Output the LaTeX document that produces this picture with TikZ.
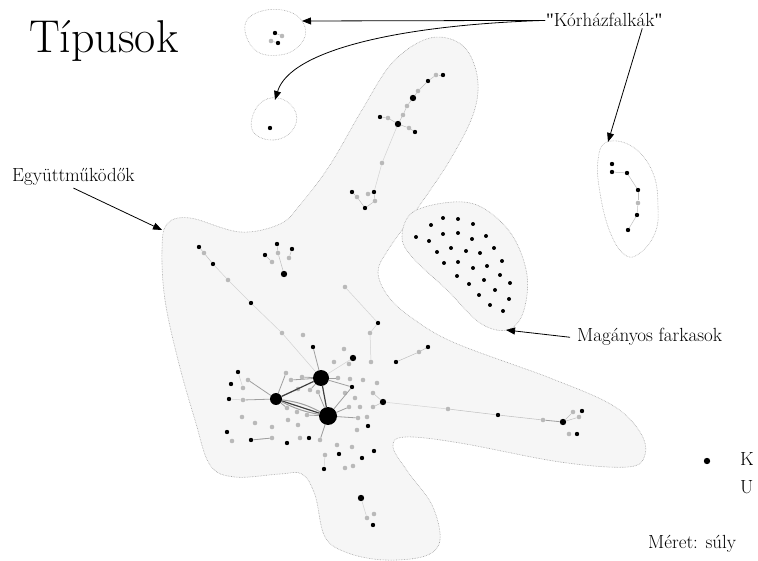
\documentclass[tikz,border=0pt]{standalone}
\usepackage{fontspec}
\newfontfamily\qfont{Liberation Serif}
\usetikzlibrary{arrows.meta}
\begin{document}
\begin{tikzpicture}[x=1pt,y=-1pt,
  blob/.style={draw=gray!75,densely dotted,line width=0.6pt,fill=gray!7},
  clique/.style={draw=gray!70,densely dotted,line width=0.6pt,fill=white},
  kdot/.style={circle,fill=black,inner sep=0pt,minimum size=4.4pt},
  kdotL/.style={circle,fill=black,inner sep=0pt,minimum size=6.4pt},
  udot/.style={circle,fill=gray!55,inner sep=0pt,minimum size=4.6pt},
  hub/.style={circle,fill=black,inner sep=0pt},
  edge/.style={gray!50,line width=0.5pt},
  edgeD/.style={gray!75,line width=0.8pt},
  hubedge/.style={black!75,line width=1.2pt},
  arr/.style={line width=0.8pt,-{Triangle[length=9pt,width=7pt]}},
  lbl/.style={inner sep=1pt,font=\fontsize{19}{21}\selectfont},
]
\useasboundingbox[fill=white] (0,0) rectangle (758,561);

% main blob
\draw[blob] plot[smooth cycle,tension=0.6] coordinates {
(430,38) (462,45) (477,75) (474,112) (450,160) (415,212) (388,250) (378,272)
(388,296) (412,318) (455,343) (550,378) (612,405) (640,432) (645,455) (628,467)
(560,462) (460,443) (405,437) (393,447) (408,472) (432,505) (440,540) (425,556)
(385,560) (348,553) (325,537) (315,495) (302,474) (280,474) (235,477) (210,465)
(195,420) (178,360) (165,300) (162,250) (167,224) (190,218) (240,232) (280,224)
(300,205) (330,165) (362,110) (393,62)};
% lone wolves blob
\draw[blob] plot[smooth cycle,tension=0.6] coordinates {
(402,237) (413,212) (453,202) (483,208) (512,235) (527,275) (523,313) (507,330)
(480,323) (447,290) (413,258)};
% cliques
\draw[clique] plot[smooth cycle,tension=0.7] coordinates {
(245,25) (262,11) (290,12) (305,27) (300,45) (280,55) (255,50)};
\draw[clique] plot[smooth cycle,tension=0.7] coordinates {
(252,118) (263,101) (282,99) (296,113) (292,131) (274,140) (255,134)};
\draw[clique] plot[smooth cycle,tension=0.7] coordinates {
(598,160) (607,142) (633,147) (653,173) (658,207) (655,233) (640,253) (625,255)
(610,232) (600,193)};

% hubs
\node[hub,minimum size=16pt] (A) at (321,378) {};
\node[hub,minimum size=12pt] (B) at (276,399) {};
\node[hub,minimum size=18pt] (C) at (328,416) {};

% black dots
\foreach \n/\x/\y in {t1/443/75,t3/428/81,t9/380/117,t12/415/132,
  m1/352/192,m4/374/192,m6/365/208,l1/199/247,l3/213/264,l5/251/303,
  c1/277/244,c2/265/255,c3/292/249,r2/378/323,r4/313/347,
  z2/396/362,z3/238/372,z4/231/384,z5/229/399,z6/352/387,z8/368/426,z9/227/432,
  z10/251/440,z11/287/443,z12/309/438,z13/339/454,z14/374/451,z15/362/458,
  z16/324/469,z18/373/525,q1/428/347,q5/498/415,q9/582/411,q12/577/434,
  p1/612/164,p2/612/172,p3/627/173,p4/638/190,p6/637/215,p7/628/230,
  s1/275/33,s2/278/43,s3/270/128}
  \node[kdot] (\n) at (\x,\y) {};
\foreach \n/\x/\y in {t5/413/98,t8/398/124,c7/284/274,r6/353/358,z7/383/402,
  z17/361/498,q7/563/422}
  \node[kdotL] (\n) at (\x,\y) {};
% lone wolves
\foreach \x/\y [count=\i] in {443/218,458/219,431/225,473/224,416/237,443/234,
  458/233,429/241,472/239,486/236,437/252,451/248,466/251,480/253,494/248,
  444/263,458/262,473/268,487/266,502/261,457/276,484/280,500/275,469/284,
  510/283,495/290,479/295,509/299,490/305,503/311}
  \node[kdot,minimum size=4pt] (w\i) at (\x,\y) {};
% gray dots
\foreach \n/\x/\y in {t2/436/75,t4/418/91,t6/407/106,t7/403/115,t10/388/118,
  t11/409/128,t13/382/163,m2/357/197,m3/368/194,m5/375/201,
  l2/204/253,l4/228/280,l6/282/333,l7/303/335,c4/278/253,c5/272/262,c6/289/258,
  r1/345/287,r3/370/333,r5/344/349,
  g4/334/362,g5/349/364,g6/371/362,g7/286/373,g8/248/380,g9/243/388,g10/291/380,
  g11/302/377,g12/338/378,g13/350/379,g14/363/380,g15/377/383,g16/298/389,
  g17/310/390,g18/318/392,g19/345/393,g21/373/393,g22/355/398,g23/243/400,
  g24/287/408,g25/297/412,g26/307/415,g27/349/407,g28/360/407,g29/373/407,
  g30/242/417,g31/255/423,g32/272/427,g33/288/420,g34/298/425,g35/358/418,
  g36/367/417,g37/357/430,g38/232/441,g39/272/438,g40/300/438,g41/320/440,
  g42/337/445,g43/352/447,g44/325/455,g45/345/468,g46/353/466,g47/367/518,
  g48/374/514,q2/419/352,q4/448/409,q6/543/420,q8/573/412,q10/579/417,
  q11/569/434,p5/638/203,s4/282/36,s5/271/41}
  \node[udot] (\n) at (\x,\y) {};

% edges
\foreach \a/\b in {t1/t2,t2/t3,t3/t4,t4/t5,t5/t6,t6/t7,t7/t8,t8/t10,t10/t9,
  t8/t11,t11/t12,m1/m2,m2/m6,m3/m4,m4/m5,m5/m6,l1/l2,l2/l3,c1/c4,c4/c7,c2/c5,
  c3/c6,z7/g21,z7/g29,z10/g39,q4/q5,q5/q6,q7/q10,q7/q8,z2/q2,q2/q1,p2/p3,p3/p4,
  p4/p5,p5/p6,p6/p7,s1/s4,s2/s5}
  \draw[edge] (\a) -- (\b);
\foreach \a/\b in {t8/t13,t13/m4,l3/l4,l4/l5,l5/l6,l6/A,r1/r2,r2/r3,r3/g6,
  z7/q4,r6/A,z3/g9,z5/g23,z16/g44,z17/g47}
  \draw[edge,gray!35] (\a) -- (\b);
\foreach \a/\b in {q6/q7,z10/g39,A/r4,A/g11,A/g12,A/g10,A/g17,B/g8,B/g23,B/g24,
  B/g7,B/g16,C/g26,C/g27,C/g35,C/g41,C/g18,C/z6,A/z6}
  \draw[edgeD] (\a) -- (\b);
\draw[hubedge] (A) -- (B);
\draw[hubedge] (A) -- (C);
\draw[hubedge] (B) -- (C);
\draw[edgeD,line width=1pt] (B) to[bend right=8] (C);
\draw[edgeD,line width=1pt] (B) to[bend left=10] (C);

% legend dot
\node[kdotL] (kleg) at (707,461) {};

% texts
\node[anchor=base west,inner sep=0pt,font=\fontsize{46}{50}\selectfont] (title) at (29,53) {Típusok};
\node[lbl,anchor=base west] (egy) at (11,182) {Együttműködők};
\node[lbl,anchor=base west] (kor) at (545,27) {{\qfont\symbol{34}}Kórházfalkák{\qfont\symbol{34}}};
\node[lbl,anchor=base west] (mag) at (576,342) {Magányos farkasok};
\node[lbl,anchor=base west] (K) at (739,465) {K};
\node[lbl,anchor=base west] (U) at (739,493) {U};
\node[lbl,anchor=base west] (mer) at (647,548) {Méret: súly};

% arrow targets
\coordinate (q1tip) at (302,21);
\coordinate (q2tip) at (275,100);
\coordinate (q3tip) at (608,142);
\coordinate (egytip) at (162,230);
\coordinate (magtip) at (506,330);

\draw[arr] (kor.west) -- (q1tip);
\draw[arr] (kor.west) .. controls (400,25) and (290,50) .. (q2tip);
\draw[arr] ([xshift=38pt]kor.south) -- (q3tip);
\draw[arr] ([yshift=-1pt]egy.south) -- (egytip);
\draw[arr] ([xshift=-6pt]mag.west) -- (magtip);
\end{tikzpicture}
\end{document}
